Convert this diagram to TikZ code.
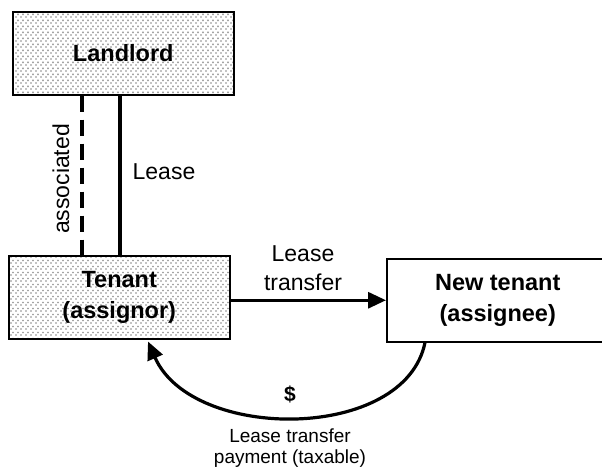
\documentclass[tikz,border=0pt]{standalone}
\usepackage{fontspec}
\setmainfont{Liberation Sans}
\usetikzlibrary{patterns.meta,arrows.meta}
\tikzdeclarepattern{
  name=stipple,
  type=uncolored,
  bounding box={(0pt,0pt) and (5pt,6pt)},
  tile size={(5pt,6pt)},
  code={
    \fill (0.3pt,0.3pt) rectangle (1.9pt,1.9pt);
    \fill (2.8pt,3.3pt) rectangle (4.4pt,4.9pt);
  }
}
\begin{document}
\begin{tikzpicture}[x=1pt,y=-1pt,
  box/.style={draw,line width=1.5pt,inner sep=0pt,align=center,
    font=\fontsize{23.5}{31}\selectfont\bfseries},
  dotbox/.style={box,pattern=stipple,pattern color=black!55},
  lbl/.style={font=\fontsize{23}{29}\selectfont,align=center,inner sep=0pt},
  small/.style={font=\fontsize{19}{21}\selectfont,align=center,inner sep=0pt},
  conn/.style={line width=3.2pt},
  tip/.style={-{Triangle[length=18pt,width=16pt]}}]
\useasboundingbox (0,0) rectangle (602,467);
\node[dotbox,minimum width=221,minimum height=83,anchor=north west] (landlord) at (12,11) {Landlord};
\node[dotbox,minimum width=221,minimum height=83,anchor=north west] (tenant) at (8,255) {Tenant\\(assignor)};
\node[box,fill=white,minimum width=222,minimum height=83,anchor=north west] (newt) at (386,258) {New tenant\\(assignee)};
\draw[conn,dash pattern=on 16pt off 8pt] ([xshift=70]landlord.south west) -- ([xshift=74]tenant.north west);
\draw[conn] ([xshift=108]landlord.south west) -- ([xshift=112]tenant.north west);
\node[lbl,rotate=90] (assoc) at (61,179) {associated};
\node[lbl] (lease) at (164,172) {Lease};
\draw[conn,tip] ([yshift=-3]tenant.east) -- ([yshift=-3]tenant.east -| newt.west);
\node[lbl] (transfer) at (303,268) {Lease\\transfer};
\draw[conn,tip] ([xshift=39]newt.south west) .. controls (405,442) and (192,442) .. ([xshift=140,yshift=-2]tenant.south west);
\node[font=\fontsize{21}{24}\selectfont\bfseries] (dollar) at (290,394) {\$};
\node[small] (payment) at (290,448) {Lease transfer\\payment (taxable)};
\end{tikzpicture}
\end{document}
